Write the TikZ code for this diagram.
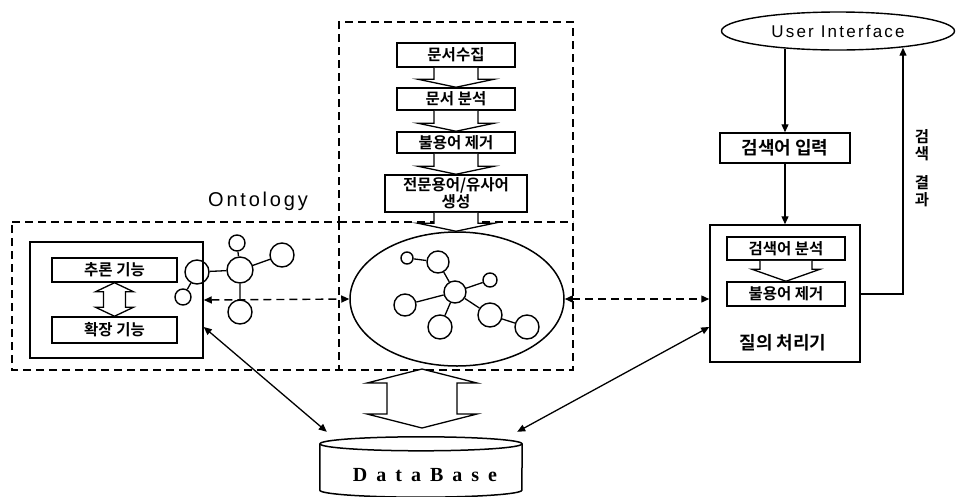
\documentclass[tikz,border=0pt]{standalone}
\usepackage{fontspec}
\setmainfont{Liberation Sans}
\newfontfamily\kr{Noto Sans CJK KR Bold}
\newfontfamily\dbfont{Liberation Serif}[LetterSpace=45]
\newfontfamily\uifont{Liberation Sans}[LetterSpace=13]
\newfontfamily\ontfont{Liberation Sans}[LetterSpace=14]
\usetikzlibrary{arrows.meta,calc,shapes.geometric}

\newcommand\blkdown[5]{%
  \draw[blk] let \p1=(#1), \p2=(#2) in
    (\x1-#3,\y1) -- (\x1-#3,\y2+#5) -- (\x1-#4,\y2+#5) -- (\x1,\y2)
    -- (\x1+#4,\y2+#5) -- (\x1+#3,\y2+#5) -- (\x1+#3,\y1);}
\newcommand\blkupdown[5]{%
  \draw[blk] let \p1=(#1), \p2=(#2) in
    (\x1,\y1) -- (\x1+#4,\y1-#5) -- (\x1+#3,\y1-#5) -- (\x1+#3,\y2+#5)
    -- (\x1+#4,\y2+#5) -- (\x2,\y2) -- (\x1-#4,\y2+#5) -- (\x1-#3,\y2+#5)
    -- (\x1-#3,\y1-#5) -- (\x1-#4,\y1-#5) -- cycle;}

\begin{document}
\begin{tikzpicture}[x=1pt,y=-1pt,
  every node/.style={inner sep=0pt},
  sbox/.style={draw, line width=1.5pt, align=center},
  krA/.style={font=\kr\fontsize{15.5pt}{17pt}\selectfont},
  krB/.style={font=\kr\fontsize{17pt}{18pt}\selectfont},
  krC/.style={font=\kr\fontsize{18pt}{20pt}\selectfont},
  dbox/.style={draw, line width=1.4pt, dash pattern=on 8pt off 5pt},
  circ/.style={draw, circle, line width=1.4pt, inner sep=0pt},
  arr/.style={-{Triangle[length=8pt,width=7pt]}},
  darr/.style={{Triangle[length=8pt,width=7pt]}-{Triangle[length=8pt,width=7pt]}},
  blk/.style={draw, line width=1.3pt, fill=white, line join=miter},
  link/.style={line width=1.3pt},
]
\useasboundingbox (0,0) rectangle (958,496);

% dashed frames
\draw[dbox] (12,222) -- (339,222) -- (339,22) -- (573,22) -- (573,370) -- (12,370) -- cycle;
\draw[dbox] (339,222) -- (573,222) (339,222) -- (339,370);

\node[font=\ontfont\fontsize{20pt}{24pt}\selectfont, anchor=base] (ontlabel) at (258,206) {Ontology};

% flow
\node[sbox, krA, minimum width=118pt, minimum height=24pt] (f1) at (456,55) {문서수집};
\node[sbox, krA, minimum width=118pt, minimum height=22pt] (f2) at (456,99) {문서 분석};
\node[sbox, krA, minimum width=118pt, minimum height=21pt] (f3) at (456,142.5) {불용어 제거};
\node[sbox, krA, minimum width=142pt, minimum height=37pt] (f4) at (456,193.5) {전문용어/유사어\\생성};
\blkdown{f1.south}{f2.north}{22pt}{38pt}{8pt}
\blkdown{f2.south}{f3.north}{22pt}{38pt}{8pt}
\blkdown{f3.south}{f4.north}{22pt}{38pt}{8pt}

% left
\node[sbox, minimum width=173pt, minimum height=116pt] (lbox) at (116.5,300) {};
\node[sbox, krA, minimum width=125pt, minimum height=24pt] (inf) at (114.5,270) {추론 기능};
\node[sbox, krA, minimum width=125pt, minimum height=26pt] (ext) at (114.5,330) {확장 기능};
\blkupdown{inf.south}{ext.north}{11pt}{19pt}{9pt}

\node[circ, minimum size=24pt] (L1) at (197,272) {};
\node[circ, minimum size=26pt] (L2) at (240,270) {};
\node[circ, minimum size=16pt] (L3) at (237,243) {};
\node[circ, minimum size=24pt] (L4) at (282,255) {};
\node[circ, minimum size=24pt] (L5) at (240,312) {};
\node[circ, minimum size=16pt] (L6) at (183,297) {};
\draw[link] (L1) -- (L2) (L2) -- (L3) (L2) -- (L4) (L2) -- (L5) (L1) -- (L6);

% ontology ellipse
\node[draw, ellipse, line width=1.5pt, minimum width=214pt, minimum height=134pt] (ell) at (457,299) {};
\blkdown{f4.south}{ell.north}{22pt}{38pt}{8pt}
\node[circ, minimum size=12pt] (na) at (407,258) {};
\node[circ, minimum size=22pt] (nb) at (438,262) {};
\node[circ, minimum size=22pt] (nc) at (455,292) {};
\node[circ, minimum size=14pt] (nd) at (490,280) {};
\node[circ, minimum size=22pt] (ne) at (405,305) {};
\node[circ, minimum size=24pt] (nf) at (440,327) {};
\node[circ, minimum size=24pt] (ng) at (490,315) {};
\node[circ, minimum size=24pt] (nh) at (527,327) {};
\draw[link] (na) -- (nb) (nb) -- (nc) (nc) -- (nd) (nc) -- (ne) (nc) -- (nf) (nc) -- (ng) (ng) -- (nh);

% right side
\node[draw, ellipse, line width=1.4pt, minimum width=233pt, minimum height=38pt,
  font=\uifont\fontsize{17pt}{20pt}\selectfont] (ui) at (838,31) {User Interface};
\node[sbox, krC, minimum width=130pt, minimum height=30pt] (inp) at (785,148) {검색어 입력};
\node[sbox, minimum width=150pt, minimum height=137pt] (qp) at (785,293.5) {};
\node[sbox, krA, minimum width=118pt, minimum height=23pt] (qa) at (786,248.5) {검색어 분석};
\node[sbox, krA, minimum width=118pt, minimum height=24pt] (qs) at (786,294) {불용어 제거};
\node[krC] (qpl) at (783,343) {질의 처리기};
\blkdown{qa.south}{qs.north}{26pt}{34pt}{12pt}

\coordinate (utop) at ($(inp.north |- ui.south)+(0,-2)$);
\draw[link, arr] (utop) -- (inp.north);
\draw[link, arr] (inp.south) -- (qp.north);
\coordinate (rc) at (903,294);
\coordinate (rtop) at ($(rc |- ui.south)+(0,-3)$);
\draw[link, arr] (qs.east -| qp.east) -- (rc) -- (rtop);
\node[krA, align=center] (res) at (922,168) {검\\색\\[12pt]결\\과};

% database
\node[minimum width=202pt, minimum height=57pt] (db) at (421,465.5) {};
\draw[line width=1.5pt] ([yshift=-7pt]db.north west) -- ([yshift=4pt]db.south west)
  arc[start angle=180, end angle=360, x radius=101pt, y radius=7pt] -- ([yshift=-7pt]db.north east);
\draw[line width=1.5pt] ([yshift=-7pt]db.north) ellipse [x radius=101pt, y radius=7pt];
\node[font=\dbfont\bfseries\fontsize{20pt}{24pt}\selectfont] (dbl) at (425,475) {DataBase};

\coordinate (bt) at (422,369);
\coordinate (bb) at (422,428);
\blkupdown{bt}{bb}{35pt}{55pt}{14pt}

% connectors
\draw[dbox, darr] (lbox.east) -- (ell.west);
\draw[dbox, darr] (ell.east) -- (ell.east -| qp.west);
\draw[link, darr] ([yshift=-27pt]lbox.east) -- ([xshift=7pt,yshift=5pt]db.north west);
\draw[link, darr] ([yshift=-33.5pt]qp.west) -- ([xshift=-5pt,yshift=5pt]db.north east);
\end{tikzpicture}
\end{document}
